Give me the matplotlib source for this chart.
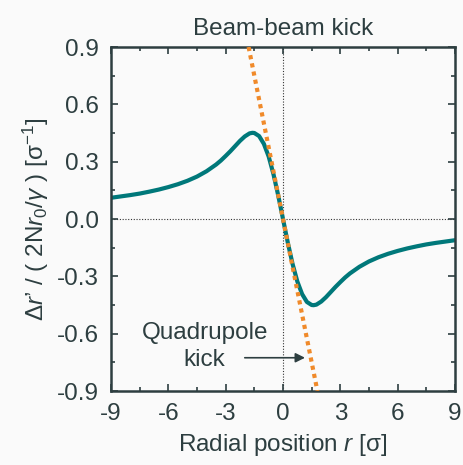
import matplotlib
matplotlib.use('Agg')
import matplotlib.pyplot as plt
from matplotlib.ticker import MultipleLocator

plt.rcParams['font.family'] = ['Liberation Sans', 'DejaVu Sans']
plt.rcParams['mathtext.fontset'] = 'custom'
plt.rcParams['mathtext.rm'] = 'Liberation Sans'
plt.rcParams['mathtext.it'] = 'Liberation Sans:italic'

# beam-beam kick curve
r = [-9, -8.5, -8, -7.5, -7, -6.5, -6, -5.5, -5, -4.5, -4, -3.5, -3.25, -3,
     -2.75, -2.5, -2.25, -2, -1.75, -1.6, -1.5, -1.25, -1, -0.75, -0.5, -0.25, 0,
     0.25, 0.5, 0.75, 1, 1.25, 1.5, 1.6, 1.75, 2, 2.25, 2.5, 2.75, 3,
     3.25, 3.5, 4, 4.5, 5, 5.5, 6, 6.5, 7, 7.5, 8, 8.5, 9]
kick = [0.111, 0.118, 0.125, 0.133, 0.143, 0.154, 0.167, 0.182, 0.200, 0.222, 0.250,
        0.285, 0.306, 0.330, 0.355, 0.382, 0.409, 0.432, 0.448, 0.451, 0.450,
        0.434, 0.393, 0.327, 0.235, 0.123, 0.0,
        -0.123, -0.235, -0.327, -0.393, -0.434, -0.450, -0.451, -0.448, -0.432,
        -0.409, -0.382, -0.355, -0.330, -0.306, -0.285, -0.250, -0.222, -0.200,
        -0.182, -0.167, -0.154, -0.143, -0.133, -0.125, -0.118, -0.111]

# linear (quadrupole) kick
quad_r = [-1.8, 1.8]
quad_kick = [0.9, -0.9]

ink = '#2d3e40'
teal = '#00787a'
orange = '#f08a2a'
bg = '#fafafa'
fs = 17.5

fig = plt.figure(figsize=(4.63, 4.65), dpi=100, facecolor=bg)
ax = fig.add_axes([111/463, 1 - 391/465, 344/463, 344/465], facecolor=bg)

ax.axhline(0, color='#333333', lw=0.8, ls=(0, (1, 1.5)), zorder=1)
ax.axvline(0, color='#333333', lw=0.8, ls=(0, (1, 1.5)), zorder=1)
ax.plot(r, kick, color=teal, lw=3, solid_capstyle='round', zorder=2)
ax.plot(quad_r, quad_kick, color=orange, lw=3, dashes=(1, 1), zorder=3)

ax.set_xlim(-9, 9)
ax.set_ylim(-0.9, 0.9)
ax.set_xticks([-9, -6, -3, 0, 3, 6, 9])
ax.set_yticks([-0.9, -0.6, -0.3, 0.0, 0.3, 0.6, 0.9])
ax.set_yticklabels(['-0.9', '-0.6', '-0.3', '0.0', '0.3', '0.6', '0.9'])
ax.set_xticklabels(['-9', '-6', '-3', '0', '3', '6', '9'])
ax.xaxis.set_minor_locator(MultipleLocator(1.5))
ax.yaxis.set_minor_locator(MultipleLocator(0.15))
ax.tick_params(which='both', direction='in', top=True, right=True, color=ink,
               labelcolor=ink, labelsize=fs, width=1.2)
ax.tick_params(which='major', length=5, pad=9)
ax.tick_params(which='minor', length=3)
for s in ax.spines.values():
    s.set_color(ink)
    s.set_linewidth(1.8)

ax.set_title('Beam-beam kick', color=ink, fontsize=fs, pad=9)
ax.set_xlabel(r'Radial position $r$ [σ]', color=ink, fontsize=fs, labelpad=5)
ax.set_ylabel(r"Δ$r$’ / ( 2N$r_0$/$\gamma$ ) [σ$^{-1}$]", color=ink, fontsize=fs, labelpad=4)

ax.text(-4.1, -0.667, 'Quadrupole\nkick', ha='center', va='center', ma='center',
        color=ink, fontsize=fs, linespacing=1.25)
ax.annotate('', xy=(1.15, -0.726), xytext=(-2.0, -0.726),
            arrowprops=dict(arrowstyle='-|>', color=ink, lw=1.2, shrinkA=0, shrinkB=0,
                            mutation_scale=14))

fig.savefig('out.png', dpi=100, facecolor=bg)
